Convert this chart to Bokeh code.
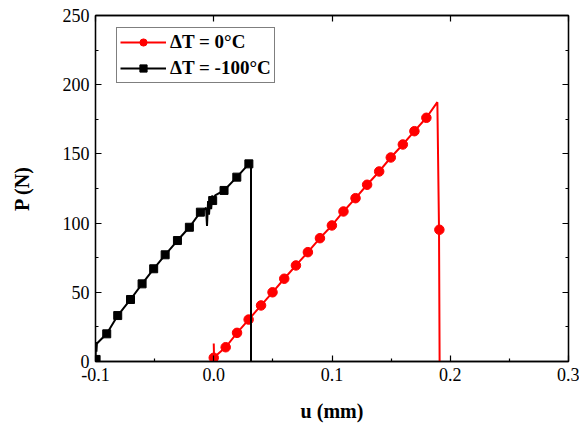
from bokeh.plotting import figure
from bokeh.models import FixedTicker, LinearAxis, Range1d, Legend, LegendItem
from bokeh.embed import file_html
from bokeh.resources import INLINE

# ---- data ----
red_line_u = [0.0000, 0.0003, 0.0008, 0.0101, 0.0197, 0.0295, 0.0400, 0.0497, 0.0596, 0.0695,
              0.0796, 0.0898, 0.0999, 0.1097, 0.1199, 0.1297, 0.1399, 0.1497, 0.1599, 0.1697,
              0.1798, 0.1891, 0.1905, 0.1910]
red_line_p = [13.0, 1.0, 3.5, 10.3, 20.7, 30.3, 40.5, 50.0, 59.8, 69.4,
              79.0, 89.1, 98.3, 108.4, 118.0, 127.7, 137.3, 147.4, 156.8, 166.4,
              176.1, 187.4, 95.0, 0.0]
red_mark_u = [0.0000, 0.0101, 0.0197, 0.0295, 0.0400, 0.0497, 0.0596, 0.0695, 0.0796, 0.0898,
              0.0999, 0.1097, 0.1199, 0.1297, 0.1399, 0.1497, 0.1599, 0.1697, 0.1798, 0.1908]
red_mark_p = [2.7, 10.3, 20.7, 30.3, 40.5, 50.0, 59.8, 69.4, 79.0, 89.1,
              98.3, 108.4, 118.0, 127.7, 137.3, 147.4, 156.8, 166.4, 176.1, 95.2]

black_line_u = [-0.1000, -0.0997, -0.0992, -0.0988, -0.0905, -0.0812, -0.0704, -0.0606, -0.0508,
                -0.0411, -0.0307, -0.0206, -0.0113, -0.0065, -0.0057, -0.0048, -0.0040, -0.0030,
                -0.0022, -0.0012, -0.0009, 0.0012, 0.0087, 0.0195, 0.0297, 0.0315, 0.0315]
black_line_p = [0.0, 14.0, 7.0, 13.0, 20.0, 33.2, 44.8, 56.1, 67.0,
                77.1, 87.4, 97.0, 107.9, 111.0, 98.0, 116.0, 106.0, 119.0,
                110.0, 120.0, 116.3, 120.0, 123.6, 133.2, 142.8, 142.5, 0.0]
black_mark_u = [-0.0995, -0.0905, -0.0812, -0.0704, -0.0606, -0.0508, -0.0411, -0.0307,
                -0.0206, -0.0113, -0.0009, 0.0087, 0.0195, 0.0297]
black_mark_p = [1.5, 20.0, 33.2, 44.8, 56.1, 67.0, 77.1, 87.4,
                97.0, 107.9, 116.3, 123.6, 133.2, 142.8]

x_ticks = [-0.1, 0.0, 0.1, 0.2, 0.3]
x_tick_labels = ["-0.1", "0.0", "0.1", "0.2", "0.3"]
x_minor = [-0.05, 0.05, 0.15, 0.25]
y_ticks = [0, 50, 100, 150, 200, 250]
y_minor = [25, 75, 125, 175, 225]

series_labels = ["\u0394T = 0\u00b0C", "\u0394T = -100\u00b0C"]
x_title = "u (mm)"
y_title = "P (N)"

FONT = "Times New Roman"

p = figure(width=579, height=425, output_backend="svg", toolbar_location=None,
           x_range=Range1d(-0.1, 0.3), y_range=Range1d(0, 250),
           min_border_left=95, min_border_right=11, min_border_top=15, min_border_bottom=64)
p.grid.visible = False
p.outline_line_color = "black"
p.outline_line_width = 1.3
p.background_fill_color = "white"
p.border_fill_color = "white"

def style_axis(ax, labels=True, minor=True):
    ax.axis_line_color = "black"
    ax.axis_line_width = 1.3
    ax.major_tick_in = 6
    ax.major_tick_out = 0
    ax.minor_tick_in = 3 if minor else 0
    ax.minor_tick_out = 0
    ax.major_tick_line_color = "black"
    ax.minor_tick_line_color = "black"
    ax.major_tick_line_width = 1.2
    ax.minor_tick_line_width = 1.2
    if labels:
        ax.major_label_text_font = FONT
        ax.major_label_text_font_size = "18px"
        ax.major_label_text_color = "black"
        ax.major_label_standoff = 6
    else:
        ax.major_label_standoff = 0

p.xaxis.ticker = FixedTicker(ticks=x_ticks, minor_ticks=x_minor)
p.yaxis.ticker = FixedTicker(ticks=y_ticks, minor_ticks=y_minor)
p.xaxis.major_label_overrides = {t: l for t, l in zip(x_ticks, x_tick_labels)}
style_axis(p.xaxis[0])
style_axis(p.yaxis[0])

for ax, title, standoff in ((p.xaxis[0], x_title, 16), (p.yaxis[0], y_title, 27)):
    ax.axis_label = title
    ax.axis_label_text_font = FONT
    ax.axis_label_text_font_style = "bold"
    ax.axis_label_text_font_size = "20px"
    ax.axis_label_text_color = "black"
    ax.axis_label_standoff = standoff

top = LinearAxis(ticker=FixedTicker(ticks=x_ticks, minor_ticks=x_minor))
style_axis(top, labels=False, minor=False)
top.major_label_overrides = {t: "" for t in x_ticks}
p.add_layout(top, "above")
right = LinearAxis(ticker=FixedTicker(ticks=y_ticks, minor_ticks=y_minor))
style_axis(right, labels=False, minor=True)
right.major_label_overrides = {t: "" for t in y_ticks}
p.add_layout(right, "right")

r_line = p.line(red_line_u, red_line_p, line_color="#ff0000", line_width=2)
r_mark = p.scatter(red_mark_u, red_mark_p, marker="circle", size=9.5,
                   fill_color="#ff0000", line_color="#ff0000")
k_line = p.line(black_line_u, black_line_p, line_color="black", line_width=2)
k_mark = p.scatter(black_mark_u, black_mark_p, marker="square", size=8,
                   fill_color="black", line_color="black")

legend = Legend(items=[LegendItem(label=series_labels[0], renderers=[r_line, r_mark]),
                       LegendItem(label=series_labels[1], renderers=[k_line, k_mark])],
                location=(21, 278))
legend.label_text_font = FONT
legend.label_text_font_style = "bold"
legend.label_text_font_size = "19px"
legend.label_text_color = "black"
legend.glyph_width = 46
legend.glyph_height = 18
legend.label_height = 18
legend.label_standoff = 4
legend.spacing = 4
legend.padding = 3
legend.margin = 0
legend.border_line_color = "black"
legend.border_line_width = 1.2
legend.background_fill_alpha = 1.0
p.add_layout(legend)

open("out.html", "w").write(file_html(p, INLINE))
